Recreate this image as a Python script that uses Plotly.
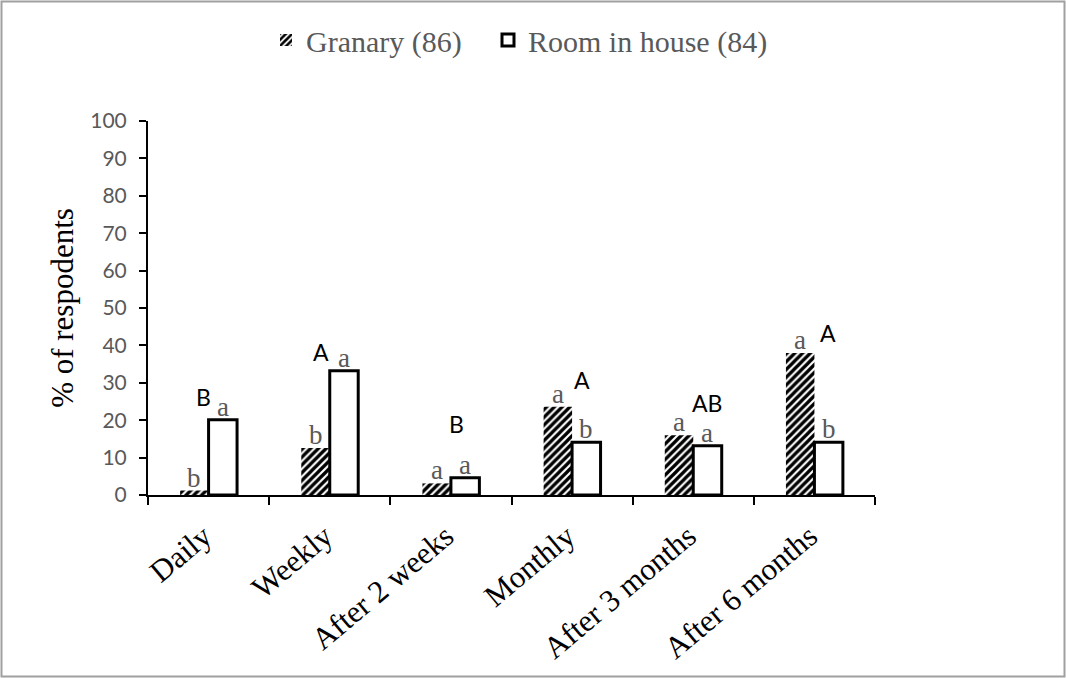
import plotly.graph_objects as go

categories = ["Daily", "Weekly", "After 2 weeks", "Monthly", "After 3 months", "After 6 months"]
granary = [1.2, 12.6, 3.1, 23.6, 16.0, 38.0]
room = [20.1, 33.2, 4.6, 14.1, 13.2, 14.1]
granary_letters = ["b", "b", "a", "a", "a", "a"]
room_letters = ["a", "a", "a", "b", "a", "b"]
group_letters = ["B", "A", "B", "A", "AB", "A"]
group_letter_y = [26.2, 38.2, 19.0, 30.7, 24.6, 43.3]
group_letter_dx = [-5, -9, 6, 10, 14, 14]

W, H = 1066, 678
L, R, T, B = 148, 191, 121, 183
pw, ph = W - L - R, H - T - B

fig = go.Figure()
fig.add_trace(go.Bar(
    x=categories, y=granary, name="Granary (86)", legend="legend",
    marker=dict(color="white", line=dict(width=0),
                pattern=dict(shape="/", fgcolor="black", bgcolor="white", fgopacity=1,
                             size=5.5, solidity=0.6)),
))
fig.add_trace(go.Bar(
    x=categories, y=room, name="Room in house (84)", legend="legend2",
    marker=dict(color="white", line=dict(color="black", width=3)),
))

half = 0.47 * pw / 6 / 4
annotations = []
for c, g, r, gl, rl, ul, uy, udx in zip(categories, granary, room, granary_letters, room_letters,
                                        group_letters, group_letter_y, group_letter_dx):
    annotations.append(dict(x=c, y=g, text=gl, showarrow=False, xshift=-half, yshift=-4,
                            yanchor="bottom", font=dict(family="Liberation Serif", size=27, color="#595959")))
    annotations.append(dict(x=c, y=r, text=rl, showarrow=False, xshift=half, yshift=-4,
                            yanchor="bottom", font=dict(family="Liberation Serif", size=27, color="#595959")))
    annotations.append(dict(x=c, y=uy, text=ul, showarrow=False, xshift=udx,
                            yanchor="middle", font=dict(family="Lato", size=23, color="black")))

legend_font = dict(family="Liberation Serif", size=30, color="#595959")
fig.update_layout(
    width=W, height=H,
    margin=dict(l=L, r=R, t=T, b=B, autoexpand=False),
    paper_bgcolor="white", plot_bgcolor="white",
    barmode="group", bargap=0.53, bargroupgap=0,
    showlegend=True,
    legend=dict(orientation="h", x=(266 - L) / pw, y=(H - B - 40) / ph, xanchor="left", yanchor="middle",
                font=legend_font),
    legend2=dict(orientation="h", x=(488 - L) / pw, y=(H - B - 40) / ph, xanchor="left", yanchor="middle",
                 font=legend_font),
    annotations=annotations,
    shapes=[dict(type="rect", xref="paper", yref="paper",
                 x0=(1.5 - L) / pw, x1=(W - 1.5 - L) / pw,
                 y0=(H - B - (H - 1.5)) / ph, y1=(H - B - 1.5) / ph,
                 line=dict(color="#a0a0a0", width=2), fillcolor="rgba(0,0,0,0)", layer="below")],
)
fig.update_xaxes(
    showline=True, linecolor="black", linewidth=2, showgrid=False, automargin=False,
    ticks="outside", tickson="boundaries", ticklen=8, tickwidth=2, tickcolor="black",
    tickangle=-40, tickfont=dict(family="Liberation Serif", size=31, color="black"),
    ticklabelstandoff=9, ticklabelshift=-5,
)
fig.update_yaxes(
    range=[0, 100], dtick=10, showline=True, linecolor="black", linewidth=2, showgrid=False,
    ticks="outside", ticklen=7, tickwidth=2, tickcolor="black", zeroline=False,
    tickfont=dict(family="Lato", size=21, color="#595959"), ticklabelstandoff=8,
    title=dict(text="% of respodents", font=dict(family="Liberation Serif", size=31, color="black"), standoff=7),
)
fig.write_html("out.html", config={"displayModeBar": False},
               post_script="document.body.style.margin='0';document.body.style.overflow='hidden';")
